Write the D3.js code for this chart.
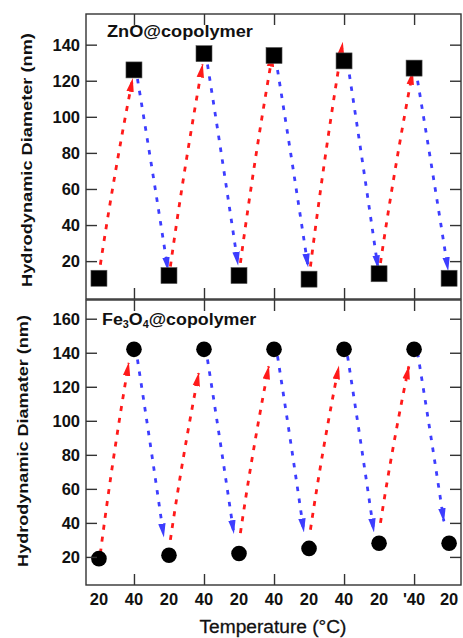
<!DOCTYPE html>
<html>
<head>
<meta charset="utf-8">
<script src="https://cdn.jsdelivr.net/npm/d3@7"></script>
<style>
  html, body { margin: 0; padding: 0; background: #fff; }
  svg { display: block; }
  text { font-family: "Liberation Sans", Arial, sans-serif; fill: #111; }
</style>
</head>
<body>
<svg id="chart" width="463" height="638"></svg>
<script>
// ---------------- data ----------------
const tempLabels = ["20", "40", "20", "40", "20", "40", "20", "40", "20", "'40", "20"];
const znoDiameter = [10.5, 126, 12, 135, 12, 134, 10, 131, 13, 127, 10.5];
const feDiameter  = [19, 142, 21, 142, 22, 142, 25, 142, 28, 142, 28];
const znoTicks = [20, 40, 60, 80, 100, 120, 140];
const feTicks  = [20, 40, 60, 80, 100, 120, 140, 160];
// arrows: [start value, end value] for heating (red, up) and cooling (blue, down)
const znoHeat = [[18, 121], [17, 129], [19, 135], [17, 141], [19, 125]];
const znoCool = [[121, 15], [129, 18], [126, 17], [130, 16], [120, 15]];
const feHeat  = [[22, 134], [30, 128], [34, 132], [36, 132], [40, 132]];
const feCool  = [[136, 32], [136, 34], [138, 35], [138, 35], [140, 41]];

// ---------------- layout ----------------
const svg = d3.select("#chart");
const L = 86, R = 461;
const x = d3.scaleLinear().domain([-0.37, 10.34]).range([L, R]);

const panels = [
  { top: 14, bottom: 299, domain: [-1, 157], values: znoDiameter, ticks: znoTicks,
    heat: znoHeat, cool: znoCool, marker: "square",
    heatOff: [0.04, -0.04], coolOff: [0.1, -0.03],
    ylabel: "Hydrodynamic Diameter (nm)", ylabX: 32, ylabY: 160, ylabW: 254 },
  { top: 300, bottom: 585, domain: [3.5, 171], values: feDiameter, ticks: feTicks,
    heat: feHeat, cool: feCool, marker: "circle",
    heatOff: [0.04, -0.15], coolOff: [0.1, -0.15],
    ylabel: "Hydrodynamic Diamater (nm)", ylabX: 28, ylabY: 441, ylabW: 252 }
];

function fitWidth(sel, target) {
  const w = sel.node().getComputedTextLength();
  return target / w;
}

// arrow markers
const defs = svg.append("defs");
[["redHead", "#ff1a1a"], ["blueHead", "#3d3dff"]].forEach(([id, c]) => {
  defs.append("marker")
    .attr("id", id)
    .attr("viewBox", "0 0 14 8")
    .attr("refX", 13).attr("refY", 4)
    .attr("markerWidth", 14).attr("markerHeight", 8)
    .attr("markerUnits", "userSpaceOnUse")
    .attr("orient", "auto")
    .append("path").attr("d", "M0,0.3 L14,4 L0,7.7 Z").attr("fill", c);
});

function arrowPath(x0, y0, x1, y1, bend) {
  const dx = x1 - x0, dy = y1 - y0, len = Math.hypot(dx, dy);
  const cx = (x0 + x1) / 2 + bend * dy / len;
  const cy = (y0 + y1) / 2 - bend * dx / len;
  const p = d3.path();
  p.moveTo(x0, y0);
  p.quadraticCurveTo(cx, cy, x1, y1);
  return p.toString();
}

panels.forEach(P => {
  const y = d3.scaleLinear().domain(P.domain).range([P.bottom, P.top]);
  const g = svg.append("g");

  // arrows
  P.heat.forEach((a, k) => {
    const i = 2 * k;
    g.append("path")
      .attr("d", arrowPath(x(i + P.heatOff[0]), y(a[0]), x(i + 1 + P.heatOff[1]), y(a[1]), 2))
      .attr("fill", "none").attr("stroke", "#ff1a1a")
      .attr("stroke-width", 2.8).attr("stroke-dasharray", "5,7")
      .attr("marker-end", "url(#redHead)");
  });
  P.cool.forEach((a, k) => {
    const i = 2 * k + 1;
    g.append("path")
      .attr("d", arrowPath(x(i + P.coolOff[0]), y(a[0]), x(i + 1 + P.coolOff[1]), y(a[1]), 0.5))
      .attr("fill", "none").attr("stroke", "#3d3dff")
      .attr("stroke-width", 2.8).attr("stroke-dasharray", "4.5,7.5")
      .attr("marker-end", "url(#blueHead)");
  });

  // markers
  if (P.marker === "square") {
    g.selectAll("rect.pt").data(P.values).join("rect")
      .attr("class", "pt")
      .attr("x", (d, i) => x(i) - 8).attr("y", d => y(d) - 8)
      .attr("width", 16).attr("height", 16)
      .attr("fill", "#000").attr("stroke", "#555").attr("stroke-width", 0.6);
  } else {
    g.selectAll("circle.pt").data(P.values).join("circle")
      .attr("class", "pt")
      .attr("cx", (d, i) => x(i)).attr("cy", d => y(d))
      .attr("r", 7.8).attr("fill", "#000");
  }

  // frame
  g.append("rect")
    .attr("x", L).attr("y", P.top).attr("width", R - L).attr("height", P.bottom - P.top)
    .attr("fill", "none").attr("stroke", "#333").attr("stroke-width", 1.4);

  // y axes (ticks inward on both sides)
  const yl = g.append("g").attr("transform", `translate(${L},0)`)
    .call(d3.axisRight(y).tickValues(P.ticks).tickSize(11).tickFormat(""));
  yl.select(".domain").remove();
  yl.selectAll("line").attr("stroke", "#333").attr("stroke-width", 1.4);
  const yr = g.append("g").attr("transform", `translate(${R},0)`)
    .call(d3.axisLeft(y).tickValues(P.ticks).tickSize(11).tickFormat(""));
  yr.select(".domain").remove();
  yr.selectAll("line").attr("stroke", "#333").attr("stroke-width", 1.4);

  // y tick labels
  g.selectAll("text.ytl").data(P.ticks).join("text")
    .attr("class", "ytl")
    .attr("x", 80).attr("y", d => y(d)).attr("dy", "0.36em")
    .attr("text-anchor", "end")
    .attr("font-weight", "bold").attr("font-size", 16.5)
    .text(d => d);

  // x ticks (inward, top and bottom) at the 40 °C positions
  const xt = d3.range(1, 11, 2);
  const xtTop = g.append("g").attr("transform", `translate(0,${P.top})`)
    .call(d3.axisBottom(x).tickValues(xt).tickSize(11).tickFormat(""));
  xtTop.select(".domain").remove();
  xtTop.selectAll("line").attr("stroke", "#333").attr("stroke-width", 1.4);
  const xtBot = g.append("g").attr("transform", `translate(0,${P.bottom})`)
    .call(d3.axisTop(x).tickValues(xt).tickSize(11).tickFormat(""));
  xtBot.select(".domain").remove();
  xtBot.selectAll("line").attr("stroke", "#333").attr("stroke-width", 1.4);

  // y label
  const yt = svg.append("text")
    .attr("text-anchor", "middle")
    .attr("font-weight", "bold").attr("font-size", 15)
    .text(P.ylabel);
  const s = fitWidth(yt, P.ylabW);
  yt.attr("transform", `translate(${P.ylabX},${P.ylabY}) rotate(-90) scale(${s},1)`);
});

// panel titles
const t1 = svg.append("text").attr("font-weight", "bold").attr("font-size", 16.5)
  .text("ZnO@copolymer");
t1.attr("transform", `translate(107,37) scale(${fitWidth(t1, 146)},1)`);

const t2 = svg.append("text").attr("font-weight", "bold").attr("font-size", 16.5);
t2.append("tspan").text("Fe");
t2.append("tspan").attr("font-size", 10).attr("dy", 3).text("3");
t2.append("tspan").attr("dy", -3).text("O");
t2.append("tspan").attr("font-size", 10).attr("dy", 3).text("4");
t2.append("tspan").attr("dy", -3).text("@copolymer");
const t2w = t2.node().getBBox().width;
t2.attr("transform", `translate(102,325) scale(${155 / t2w},1)`);

// x tick labels
svg.selectAll("text.xtl").data(tempLabels).join("text")
  .attr("class", "xtl")
  .attr("x", (d, i) => x(i)).attr("y", 605)
  .attr("text-anchor", "middle")
  .attr("font-weight", "bold").attr("font-size", 16.5)
  .text(d => d);

// x axis title
const xt = svg.append("text").attr("font-size", 18.5).attr("text-anchor", "middle")
  .attr("stroke", "#111").attr("stroke-width", 0.3)
  .text("Temperature (°C)");
xt.attr("transform", `translate(273,633) scale(${fitWidth(xt, 147)},1)`);
</script>
</body>
</html>
